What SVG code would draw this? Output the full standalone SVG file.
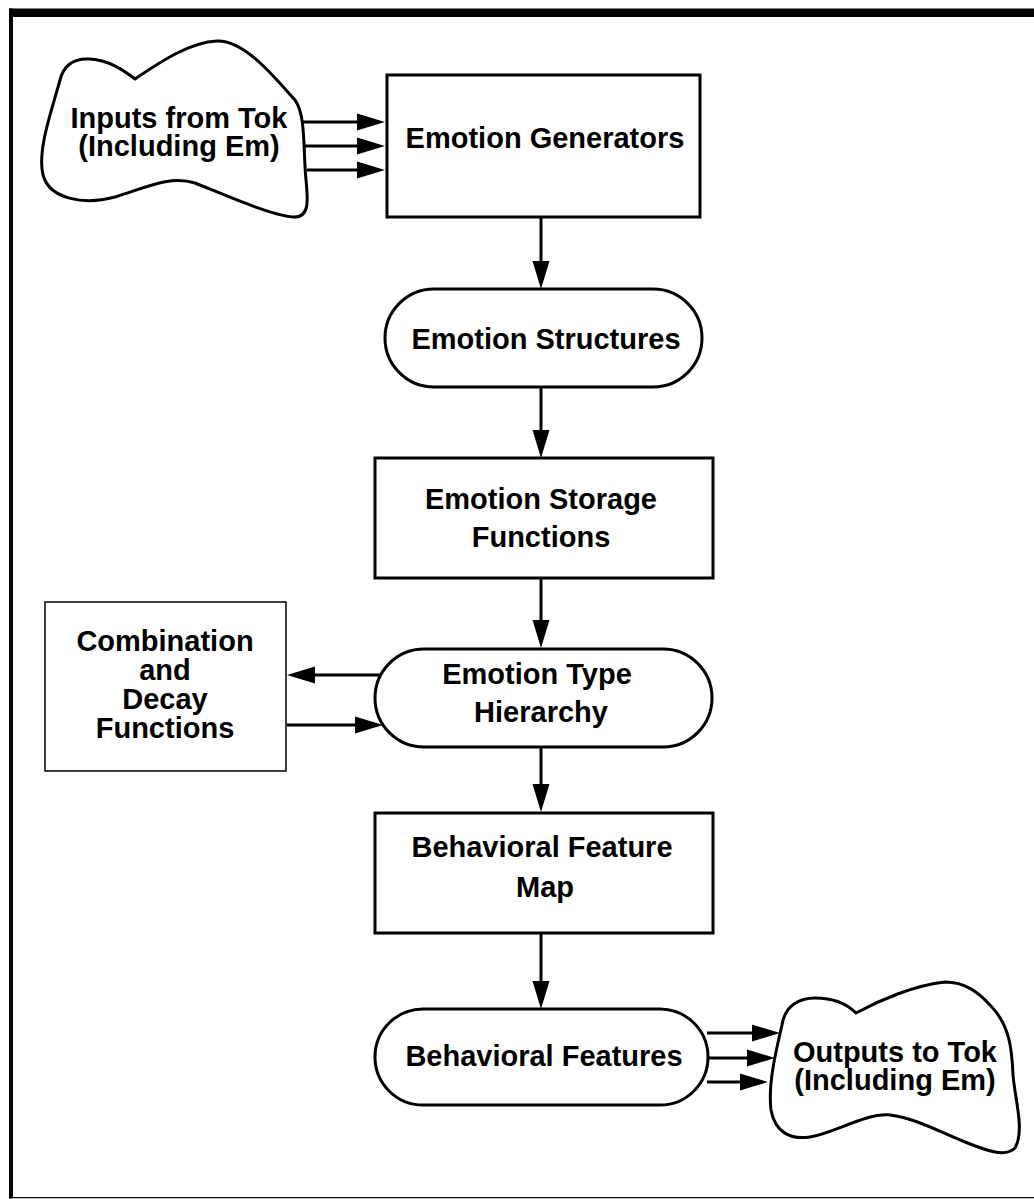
<svg xmlns="http://www.w3.org/2000/svg" width="1034" height="1199" viewBox="0 0 1034 1199">
<style>
.shape{fill:#fff;stroke:#000;stroke-width:3}
.thin{fill:#fff;stroke:#000;stroke-width:1.5}
.lbl{font-family:"Liberation Sans",Arial,Helvetica,sans-serif;font-weight:bold;font-size:29px;fill:#000;text-anchor:middle}
.conn{stroke:#000;stroke-width:3;fill:none;marker-end:url(#ah)}
</style>
<defs>
<marker id="ah" markerUnits="userSpaceOnUse" markerWidth="30" markerHeight="20" refX="8" refY="9" orient="auto">
<path d="M0,0.5 L28,9 L0,17.5 z" fill="#000"/>
</marker>
</defs>
<rect x="0" y="0" width="1034" height="1199" fill="#fff"/>
<g id="frame">
<rect x="9" y="8.5" width="1025" height="8.5" fill="#000"/>
<rect x="9" y="8.5" width="4" height="1190" fill="#000"/>
<rect x="9" y="1197" width="1025" height="1.2" fill="#000"/>
</g>
<g id="inputs">
<path class="shape" d="M135 79 C160 62,190 42,217 41 C245 40,275 78,295 100 C306 115,303 150,306 180 C308 200,310 218,293 217 C270 215,225 195,195 183 C170 175,145 188,115 197 C85 205,50 200,43 175 C37 150,52 110,60 80 C64 64,75 58,90 59 C108 60,122 69,135 79 Z"/>
<text class="lbl" x="179" y="128">Inputs from Tok</text>
<text class="lbl" x="179" y="156">(Including Em)</text>
</g>
<g id="generators">
<rect class="shape" x="387" y="75" width="313" height="142"/>
<text class="lbl" x="545" y="148">Emotion Generators</text>
</g>
<g id="structures">
<rect class="shape" x="385" y="289" width="317" height="98" rx="49" ry="49"/>
<text class="lbl" x="546" y="349">Emotion Structures</text>
</g>
<g id="storage">
<rect class="shape" x="375" y="458" width="338" height="120"/>
<text class="lbl" x="541" y="509">Emotion Storage</text>
<text class="lbl" x="541" y="547">Functions</text>
</g>
<g id="combination">
<rect class="thin" x="45" y="602" width="241" height="169"/>
<text class="lbl" x="165" y="651">Combination</text>
<text class="lbl" x="165" y="680">and</text>
<text class="lbl" x="165" y="709">Decay</text>
<text class="lbl" x="165" y="738">Functions</text>
</g>
<g id="hierarchy">
<rect class="shape" x="375" y="649" width="337" height="98" rx="49" ry="49"/>
<text class="lbl" x="537" y="684">Emotion Type</text>
<text class="lbl" x="541" y="722">Hierarchy</text>
</g>
<g id="featuremap">
<rect class="shape" x="375" y="813" width="338" height="120"/>
<text class="lbl" x="542" y="857">Behavioral Feature</text>
<text class="lbl" x="545" y="897">Map</text>
</g>
<g id="features">
<rect class="shape" x="375" y="1009" width="333" height="96" rx="48" ry="48"/>
<text class="lbl" x="544" y="1066">Behavioral Features</text>
</g>
<g id="outputs">
<path class="shape" d="M856 1013 C880 1000,915 985,945 982 C965 982,978 992,990 1005 C1010 1025,1012 1050,1013 1075 C1015 1100,1025 1130,1015 1148 C1005 1158,985 1150,965 1142 C940 1132,915 1118,890 1115 C865 1113,835 1133,810 1137 C790 1140,775 1132,771 1110 C768 1085,775 1055,782 1025 C785 1005,800 998,815 998 C835 998,848 1005,856 1013 Z"/>
<text class="lbl" x="895" y="1062">Outputs to Tok</text>
<text class="lbl" x="895" y="1090">(Including Em)</text>
</g>
<g id="connectors">
<line class="conn" x1="302" y1="122" x2="365" y2="122"/>
<line class="conn" x1="305" y1="146" x2="365" y2="146"/>
<line class="conn" x1="307" y1="170" x2="365" y2="170"/>
<line class="conn" x1="541" y1="217" x2="541" y2="269"/>
<line class="conn" x1="541" y1="387" x2="541" y2="438"/>
<line class="conn" x1="541" y1="578" x2="541" y2="628"/>
<line class="conn" x1="380" y1="675" x2="307" y2="675"/>
<line class="conn" x1="287" y1="725" x2="363" y2="725"/>
<line class="conn" x1="541" y1="747" x2="541" y2="792"/>
<line class="conn" x1="541" y1="933" x2="541" y2="989"/>
<line class="conn" x1="707" y1="1033" x2="760" y2="1033"/>
<line class="conn" x1="708" y1="1058" x2="755" y2="1058"/>
<line class="conn" x1="707" y1="1082" x2="748" y2="1082"/>
</g>
</svg>
